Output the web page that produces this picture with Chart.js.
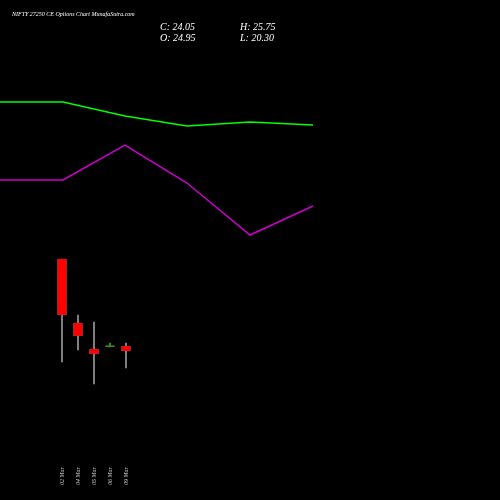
<!DOCTYPE html>
<html>
<head>
<script src="https://cdn.jsdelivr.net/npm/chart.js@4"></script>
<style>
body{margin:0;background:#000;}
#wrap{position:relative;width:500px;height:500px;}
.t{position:absolute;color:#fff;font-family:"Liberation Serif",serif;font-style:italic;}
</style>
</head>
<body>
<div id="wrap">
<canvas id="c" width="500" height="500"></canvas>
<div class="t" style="left:12px;top:11px;font-size:6px;">NIFTY 27250  CE Options  Chart MunafaSutra.com</div>
<div class="t" style="left:160px;top:21px;font-size:10px;line-height:11px;">C: 24.05<br>O: 24.95</div>
<div class="t" style="left:240px;top:21px;font-size:10px;line-height:11px;">H: 25.75<br>L: 20.30</div>
</div>
<script>
// values in chart units (screen-like scale, 0 at top)
const lineX = [0, 63, 125, 187, 250, 313];
const greenLine = [102, 102, 116, 126, 122, 125];
const purpleLine = [180, 180, 145, 183, 235, 206];

const candleX = [62, 78, 94, 110, 126];
const dates = ['02 Mar', '04 Mar', '05 Mar', '06 Mar', '09 Mar'];
const opens = [259, 323, 349, 346, 346];
const closes = [315, 336, 354, 346, 351];
const highs = [259, 315, 322, 343, 343];
const lows = [362, 350, 384, 347, 368];

const bodyColors = opens.map((o, i) => closes[i] > o ? '#ff0000' : '#00aa00');
const wickColors = opens.map((o, i) => closes[i] > o ? '#999999' : '#4a9a4a');

const dateLabels = {
    id: 'dateLabels',
    afterDraw(chart) {
        const ctx = chart.ctx;
        const xs = chart.scales.x;
        ctx.save();
        ctx.fillStyle = '#ccc';
        ctx.font = 'italic 6px "Liberation Serif", serif';
        ctx.textAlign = 'left';
        ctx.textBaseline = 'middle';
        candleX.forEach((x, i) => {
            ctx.save();
            ctx.translate(xs.getPixelForValue(x), 485);
            ctx.rotate(-Math.PI / 2);
            ctx.fillText(dates[i], 0, 0);
            ctx.restore();
        });
        ctx.restore();
    }
};

new Chart(document.getElementById('c'), {
    data: {
        datasets: [
            {
                type: 'line', order: 2,
                data: lineX.map((x, i) => ({ x: x, y: greenLine[i] })),
                borderColor: '#00ff00', borderWidth: 1.5, pointRadius: 0, tension: 0
            },
            {
                type: 'line', order: 2,
                data: lineX.map((x, i) => ({ x: x, y: purpleLine[i] })),
                borderColor: '#cc00cc', borderWidth: 1.5, pointRadius: 0, tension: 0
            },
            {
                type: 'bar', order: 1,
                data: candleX.map((x, i) => ({ x: x, y: [lows[i], highs[i]] })),
                backgroundColor: wickColors, barThickness: 1, grouped: false
            },
            {
                type: 'bar', order: 0,
                data: candleX.map((x, i) => ({ x: x, y: opens[i] === closes[i] ? [opens[i] - 0.6, opens[i] + 0.6] : [opens[i], closes[i]] })),
                backgroundColor: bodyColors, borderColor: '#aa5555', borderWidth: 0.5,
                barThickness: 9, grouped: false
            }
        ]
    },
    options: {
        responsive: false,
        animation: false,
        layout: { padding: 0 },
        plugins: { legend: { display: false }, tooltip: { enabled: false } },
        scales: {
            x: { type: 'linear', min: 0, max: 500, offset: false, display: false },
            y: { min: 0, max: 500, reverse: true, display: false }
        }
    },
    plugins: [dateLabels]
});
</script>
</body>
</html>
